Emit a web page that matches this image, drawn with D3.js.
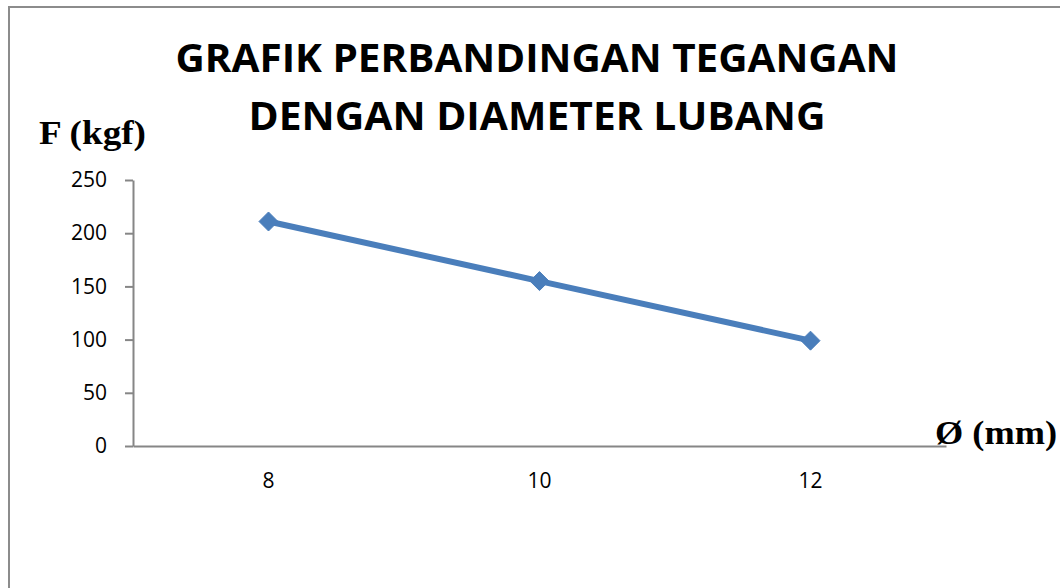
<!DOCTYPE html>
<html>
<head>
<meta charset="utf-8">
<script src="https://cdn.jsdelivr.net/npm/d3@7"></script>
<style>
  body { margin: 0; background: #fff; }
  svg { display: block; }
</style>
</head>
<body>
<script>
// data
var diameters = ["8", "10", "12"];
var forces = [211, 155, 99];
var yTicks = [0, 50, 100, 150, 200, 250];
var titleLines = ["GRAFIK PERBANDINGAN TEGANGAN", "DENGAN DIAMETER LUBANG"];

var W = 1060, H = 588;
var margin = {top: 180, right: 114, bottom: 142, left: 133};

var svg = d3.select("body").append("svg")
    .attr("width", W)
    .attr("height", H);

// outer chart border (right / bottom edges fall outside the picture)
svg.append("path")
    .attr("d", "M9,590 L9,7 L1062,7")
    .attr("fill", "none")
    .attr("stroke", "#8c8c8c")
    .attr("stroke-width", 2);

// scales
var x = d3.scaleBand()
    .domain(diameters)
    .range([margin.left, W - margin.right]);
var y = d3.scaleLinear()
    .domain([0, 250])
    .range([H - margin.bottom, margin.top]);

// title
svg.selectAll(".title")
    .data(titleLines)
  .enter().append("text")
    .attr("class", "title")
    .attr("x", 537)
    .attr("y", function(d, i) { return 72 + i * 58; })
    .attr("text-anchor", "middle")
    .attr("font-family", "'Open Sans', sans-serif")
    .attr("font-weight", "bold")
    .attr("font-size", "39px")
    .attr("textLength", function(d, i) { return i === 0 ? 723 : 577; })
    .attr("lengthAdjust", "spacingAndGlyphs")
    .attr("fill", "#000")
    .text(function(d) { return d; });

// Y axis
var yAxis = svg.append("g")
    .attr("transform", "translate(" + margin.left + ",0)")
    .call(d3.axisLeft(y).tickValues(yTicks).tickSize(8).tickSizeOuter(0));
yAxis.select(".domain").attr("stroke", "#868686").attr("stroke-width", 2);
yAxis.selectAll(".tick line").attr("stroke", "#868686").attr("stroke-width", 2);
yAxis.selectAll(".tick text")
    .attr("x", -26)
    .attr("font-family", "'Open Sans', sans-serif")
    .attr("font-size", "21px")
    .attr("fill", "#000");

// X axis
var xAxis = svg.append("g")
    .attr("transform", "translate(0," + y(0) + ")")
    .call(d3.axisBottom(x).tickSize(0).tickSizeOuter(0));
xAxis.select(".domain").attr("stroke", "#868686").attr("stroke-width", 2);
xAxis.selectAll(".tick text")
    .attr("y", 27)
    .attr("font-family", "'Open Sans', sans-serif")
    .attr("font-size", "21px")
    .attr("fill", "#000");

// axis titles
svg.append("text")
    .attr("x", 39)
    .attr("y", 144)
    .attr("font-family", "'Liberation Serif', serif")
    .attr("font-weight", "bold")
    .attr("font-size", "33px")
    .attr("textLength", 107)
    .attr("lengthAdjust", "spacingAndGlyphs")
    .text("F (kgf)");

svg.append("text")
    .attr("x", 935)
    .attr("y", 444)
    .attr("font-family", "'Liberation Serif', serif")
    .attr("font-weight", "bold")
    .attr("font-size", "33px")
    .attr("textLength", 122)
    .attr("lengthAdjust", "spacingAndGlyphs")
    .text("Ø (mm)");

// series
var cx = function(d, i) { return x(diameters[i]) + x.bandwidth() / 2; };

var line = d3.line()
    .x(function(d, i) { return cx(d, i); })
    .y(function(d) { return y(d); });

svg.append("path")
    .datum(forces)
    .attr("d", line)
    .attr("fill", "none")
    .attr("stroke", "#4a7ebb")
    .attr("stroke-width", 6)
    .attr("stroke-linejoin", "round");

svg.selectAll(".dot")
    .data(forces)
  .enter().append("path")
    .attr("class", "dot")
    .attr("d", d3.symbol().type(d3.symbolDiamond2).size(230))
    .attr("transform", function(d, i) { return "translate(" + cx(d, i) + "," + y(d) + ")"; })
    .attr("fill", "#4a7ebb")
    .attr("stroke", "#4a7ebb")
    .attr("stroke-width", 1);
</script>
</body>
</html>
